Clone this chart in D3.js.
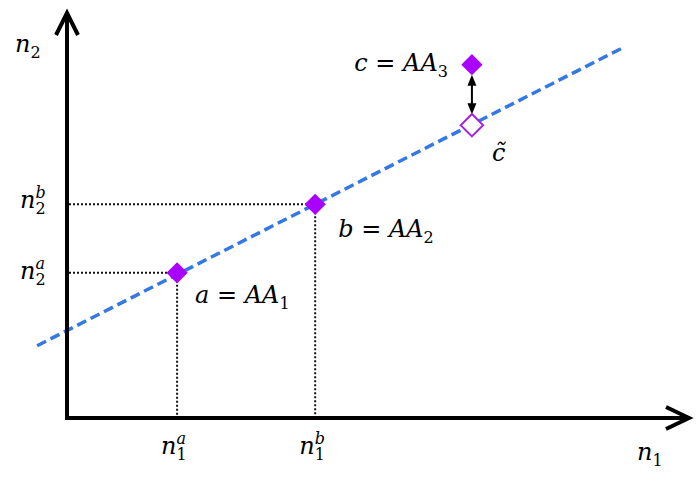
<!DOCTYPE html>
<html>
<head>
<meta charset="utf-8">
<script src="https://cdn.jsdelivr.net/npm/d3@7"></script>
<style>
body { margin: 0; background: #fff; }
text { font-family: "DejaVu Serif", serif; fill: #000; }
</style>
</head>
<body>
<script>
const width = 700, height = 481;

// points a, b, c (chart units)
const pointNames = ["a", "b", "c"];
const pointSubs = ["1", "2", "3"];
const pointX = [1.77, 3.99, 6.51];
const pointY = [2.33, 3.43, 5.67];
// c~ : c projected on the fitted line
const projX = [6.51];
const projY = [4.70];
// ends of the dashed fitted line
const lineX = [-0.48, 8.97];
const lineY = [1.16, 5.96];

const fontSize = 24, scriptSize = 16;
const purple = "#aa00ff", blue = "#3478e5";

var x = d3.scaleLinear().domain([0, 10]).range([67, 689]);
var y = d3.scaleLinear().domain([0, 6.5]).range([418, 13]);

var svg = d3.select("body").append("svg")
    .attr("width", width)
    .attr("height", height);

// n with subscript and superscript stacked, in one text
function nLabel(xs, ys, sub, sup) {
  var t = svg.append("text")
      .attr("x", xs).attr("y", ys)
      .style("font-size", fontSize + "px");
  var base = t.append("tspan").style("font-style", "italic").text("n");
  var w = base.node().getComputedTextLength();
  t.append("tspan").attr("dy", 6).style("font-size", scriptSize + "px").text(sub);
  if (sup) {
    t.append("tspan")
        .attr("x", xs + w).attr("dy", -16)
        .style("font-size", scriptSize + "px")
        .style("font-style", "italic")
        .text(sup);
  }
}

// "a = AA1" style label
function eqLabel(xs, ys, name, sub, anchor) {
  var t = svg.append("text")
      .attr("x", xs).attr("y", ys)
      .attr("text-anchor", anchor)
      .style("font-size", fontSize + "px")
      .style("white-space", "pre");
  t.append("tspan").style("font-style", "italic").text(name);
  t.append("tspan").text(" = ");
  t.append("tspan").style("font-style", "italic").text("AA");
  t.append("tspan").attr("dy", 6).style("font-size", scriptSize + "px").text(sub);
}

// dotted guides from a and b to the axes
[0, 1].forEach(function(i) {
  svg.append("line")
      .attr("x1", x(0) + 2).attr("x2", x(pointX[i]))
      .attr("y1", y(pointY[i])).attr("y2", y(pointY[i]))
      .style("stroke", "#111").style("stroke-width", 2)
      .style("stroke-dasharray", "2,2");
  svg.append("line")
      .attr("x1", x(pointX[i])).attr("x2", x(pointX[i]))
      .attr("y1", y(pointY[i])).attr("y2", y(0) - 2)
      .style("stroke", "#111").style("stroke-width", 2)
      .style("stroke-dasharray", "2,2");
});

// fitted line
var line = d3.line()
    .x(function(d) { return x(d[0]); })
    .y(function(d) { return y(d[1]); });
svg.append("path")
    .datum(d3.zip(lineX, lineY))
    .attr("d", line)
    .style("fill", "none")
    .style("stroke", blue)
    .style("stroke-width", 3.5)
    .style("stroke-dasharray", "10,5");

// axes with open arrowheads
var xEnd = x.range()[1], yEnd = y.range()[1];
svg.append("path")
    .attr("d", "M" + x(0) + "," + yEnd + "L" + x(0) + "," + y(0) + "L" + xEnd + "," + y(0))
    .style("fill", "none").style("stroke", "#000").style("stroke-width", 4)
    .style("stroke-linejoin", "miter");
svg.append("path")
    .attr("d", "M" + (x(0) - 11) + "," + (yEnd + 22) + "L" + x(0) + "," + yEnd + "L" + (x(0) + 11) + "," + (yEnd + 22))
    .style("fill", "none").style("stroke", "#000").style("stroke-width", 4)
    .style("stroke-linejoin", "miter");
svg.append("path")
    .attr("d", "M" + (xEnd - 23) + "," + (y(0) - 11) + "L" + xEnd + "," + y(0) + "L" + (xEnd - 23) + "," + (y(0) + 11))
    .style("fill", "none").style("stroke", "#000").style("stroke-width", 4)
    .style("stroke-linejoin", "miter");

// double arrow between c and c~
var ax = x(projX[0]), aTop = y(pointY[2]) + 10, aBot = y(projY[0]) - 11;
svg.append("line")
    .attr("x1", ax).attr("x2", ax).attr("y1", aTop + 6).attr("y2", aBot - 6)
    .style("stroke", "#000").style("stroke-width", 2);
svg.append("path")
    .attr("d", "M" + ax + "," + aTop + "l-4.5,11h9z")
    .style("fill", "#000");
svg.append("path")
    .attr("d", "M" + ax + "," + aBot + "l-4.5,-11h9z")
    .style("fill", "#000");

// diamonds
var diamond = d3.symbol().type(d3.symbolSquare);
svg.selectAll(".pt")
    .data(pointNames)
    .enter().append("path")
    .attr("class", "pt")
    .attr("d", diamond.size(225)())
    .attr("transform", function(d, i) {
      return "translate(" + x(pointX[i]) + "," + y(pointY[i]) + ") rotate(45)";
    })
    .style("fill", purple);
svg.append("path")
    .attr("d", diamond.size(250)())
    .attr("transform", "translate(" + x(projX[0]) + "," + y(projY[0]) + ") rotate(45)")
    .style("fill", "#fff")
    .style("stroke", "#a524dc")
    .style("stroke-width", 2);

// axis labels
nLabel(15, 52, "2");
nLabel(637, 460, "1");
// tick labels on the axes
nLabel(x(pointX[0]) - 16, 454, "1", "a");
nLabel(x(pointX[1]) - 16, 454, "1", "b");
nLabel(20, y(pointY[1]) + 4, "2", "b");
nLabel(20, y(pointY[0]) + 6, "2", "a");

// point labels
eqLabel(x(pointX[0]) + 18, y(pointY[0]) + 30, "a", pointSubs[0], "start");
eqLabel(x(pointX[1]) + 23, y(pointY[1]) + 33, "b", pointSubs[1], "start");
eqLabel(x(pointX[2]) - 24, y(pointY[2]) + 6, "c", pointSubs[2], "end");
svg.append("text")
    .attr("x", x(projX[0]) + 20).attr("y", y(projY[0]) + 36)
    .style("font-size", fontSize + "px")
    .style("font-style", "italic")
    .text("c\u0303");
</script>
</body>
</html>
